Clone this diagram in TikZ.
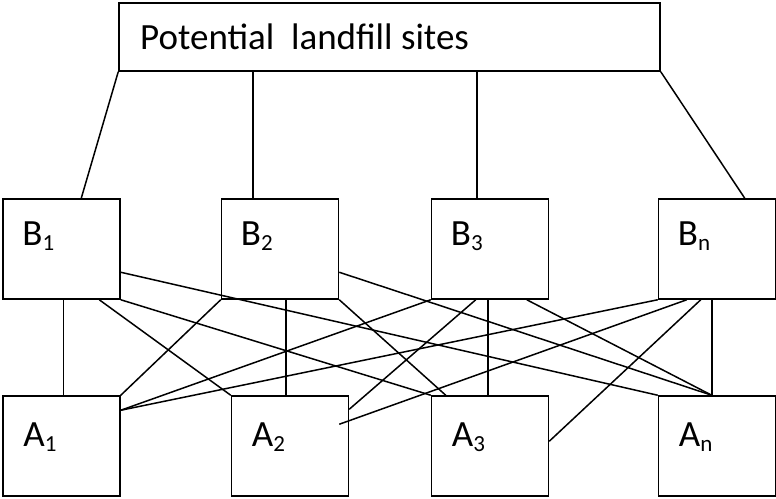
\documentclass[tikz,border=0pt]{standalone}
\usepackage{fontspec}
\setmainfont{Carlito}
\newcommand\lowidx[1]{{\fontsize{23}{23}\selectfont\raisebox{-5pt}{#1}}}
\begin{document}
\begin{tikzpicture}[x=1pt,y=-1pt,
  box/.style={draw, line width=1.5pt, minimum width=117pt, minimum height=100pt, inner sep=0pt},
  lbl/.style={inner sep=0pt, anchor=base west, font=\fontsize{37}{40}\selectfont},
  link/.style={line width=1.5pt}]
\useasboundingbox (0,0) rectangle (776,498);

% top box
\node[draw, line width=1.5pt, minimum width=541pt, minimum height=68pt, inner sep=0pt] (top) at (389.5,37) {};
\node[lbl] (toptext) at (140,49) {Potential\ \ landfill sites};

% upper row
\node[box] (b1) at (61.5,249) {};
\node[box] (b2) at (280,249) {};
\node[box] (b3) at (490,249) {};
\node[box] (bn) at (717,249) {};
% lower row
\node[box] (a1) at (61.5,446) {};
\node[box] (a2) at (290,446) {};
\node[box] (a3) at (490,446) {};
\node[box] (an) at (717,446) {};

% labels
\node[lbl] (b1t) at ([shift={(20,47)}]b1.north west) {B\lowidx{1}};
\node[lbl] (b2t) at ([shift={(20,47)}]b2.north west) {B\lowidx{2}};
\node[lbl] (b3t) at ([shift={(20,47)}]b3.north west) {B\lowidx{3}};
\node[lbl] (bnt) at ([shift={(20,47)}]bn.north west) {B\lowidx{n}};
\node[lbl] (a1t) at ([shift={(21,51)}]a1.north west) {A\lowidx{1}};
\node[lbl] (a2t) at ([shift={(21,51)}]a2.north west) {A\lowidx{2}};
\node[lbl] (a3t) at ([shift={(21,51)}]a3.north west) {A\lowidx{3}};
\node[lbl] (ant) at ([shift={(21,51)}]an.north west) {A\lowidx{n}};

% points on the boxes where the links meet
\coordinate (b1top) at ([xshift=79]b1.north west);
\coordinate (b2top) at ([xshift=32]b2.north west);
\coordinate (b3top) at ([xshift=46]b3.north west);
\coordinate (bntop) at ([xshift=87]bn.north west);
\coordinate (a1in) at ([yshift=-15]a1.north east);
\coordinate (anin) at ([xshift=54]an.north west);

% top box to upper row
\draw[link] (top.south west) -- (b1top);
\draw[link] (b2top) -- (b2top |- top.south);
\draw[link] (b3top) -- (b3top |- top.south);
\draw[link] (top.south east) -- (bntop);

% from B1
\draw[link] ([xshift=61]b1.south west) -- ([xshift=61]a1.north west);
\draw[link] ([xshift=97]b1.south west) -- (a2.north west);
\draw[link] (b1.south east) -- (a3.north west);
\draw[link] ([yshift=-74]b1.north east) -- (an.north west);
% from B2
\draw[link] (b2.south west) -- (a1.north east);
\draw[link] ([xshift=65]b2.south west) -- ([xshift=55]a2.north west);
\draw[link] (b2.south east) -- ([xshift=15]a3.north west);
\draw[link] ([yshift=-74]b2.north east) -- (anin);
% from B3
\draw[link] (b3.south west) -- (a1in);
\draw[link] ([xshift=45]b3.south west) -- ([yshift=-14]a2.north east);
\draw[link] ([xshift=57]b3.south west) -- ([xshift=57]a3.north west);
\draw[link] ([xshift=96]b3.south west) -- (anin);
% from Bn
\draw[link] (bn.south west) -- (a1in);
\draw[link] ([xshift=29]bn.south west) -- ([shift={(-10,29)}]a2.north east);
\draw[link] ([xshift=43]bn.south west) -- ([yshift=-46]a3.north east);
\draw[link] ([xshift=54]bn.south west) -- (anin);
\end{tikzpicture}
\end{document}
